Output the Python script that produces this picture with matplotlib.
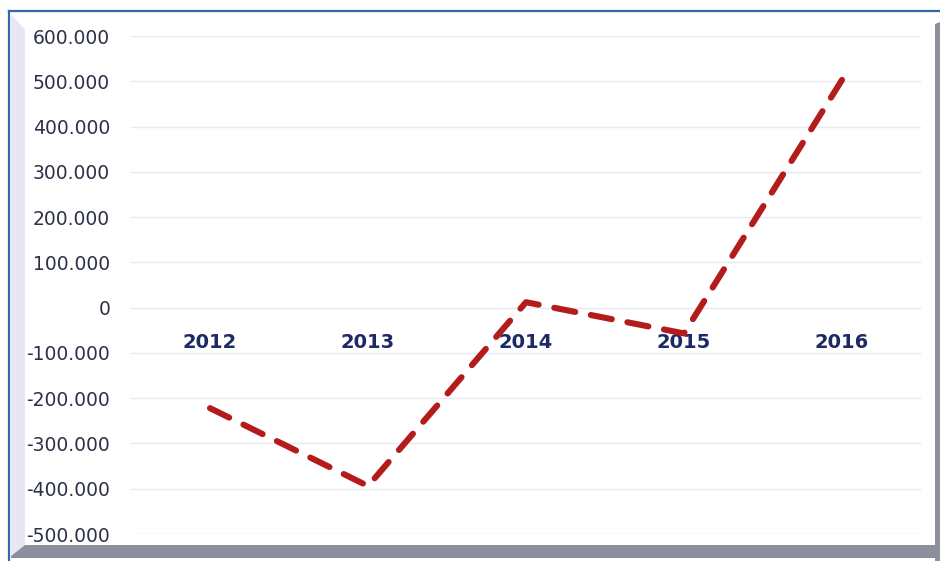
import matplotlib.pyplot as plt
from matplotlib.patches import Polygon
from matplotlib.ticker import FuncFormatter

years = ['2012', '2013', '2014', '2015', '2016']
values = [-222000, -394000, 12000, -57000, 503000]
y_ticks = list(range(-500000, 600001, 100000))

W, H = 940, 561


def px(points):
    # pixel coords (top-left origin) -> figure fraction
    return [(x / W, 1 - y / H) for x, y in points]


def fmt(v, pos):
    if v == 0:
        return '0'
    return f'{v / 1000:.3f}'


def main():
    fig = plt.figure(figsize=(9.4, 5.61), dpi=100)
    fig.patch.set_facecolor('white')

    # 3D-ish frame: left wall, floor, right edge, blue outline
    fig.add_artist(Polygon(px([(11, 14), (25, 30), (25, 545), (11, 556)]),
                           closed=True, facecolor='#e6e7f2', edgecolor='none'))
    fig.add_artist(Polygon(px([(25, 545), (935, 545), (935, 558), (11, 558), (11, 556)]),
                           closed=True, facecolor='#8c909c', edgecolor='none'))
    fig.add_artist(Polygon(px([(935, 24), (940, 22), (940, 561), (935, 561)]),
                           closed=True, facecolor='#8c909c', edgecolor='none'))
    fig.add_artist(plt.Line2D([9 / W, 940 / W], [1 - 11 / H, 1 - 11 / H],
                              color='#3566b0', lw=1.6))
    fig.add_artist(plt.Line2D([9 / W, 9 / W], [1 - 11 / H, 0],
                              color='#3566b0', lw=1.6))

    ax = fig.add_axes([131 / W, 27 / H, 790 / W, 498 / H])
    ax.set_facecolor('none')

    x = list(range(len(years)))
    ax.plot(x, values, color='#b41c1c', lw=4.4, linestyle=(0, (3.5, 2.6)),
            dash_capstyle='round', solid_capstyle='round', zorder=3)

    ax.set_xlim(-0.5, len(years) - 0.5)
    ax.set_ylim(-500000, 600000)
    ax.set_yticks(y_ticks)
    ax.yaxis.set_major_formatter(FuncFormatter(fmt))
    ax.grid(axis='y', color='#e8e9f0', lw=1)
    ax.set_axisbelow(True)

    for s in ax.spines.values():
        s.set_visible(False)
    ax.spines['bottom'].set_position(('data', 0))

    ax.set_xticks(x)
    ax.set_xticklabels(years)
    ax.tick_params(axis='x', length=0, pad=18, labelsize=14,
                   labelcolor='#1c2a66')
    for lbl in ax.get_xticklabels():
        lbl.set_fontweight('bold')
    ax.tick_params(axis='y', length=0, pad=15, labelsize=13.5,
                   labelcolor='#2d3148')

    fig.savefig('out.png', dpi=100)


if __name__ == '__main__':
    main()
